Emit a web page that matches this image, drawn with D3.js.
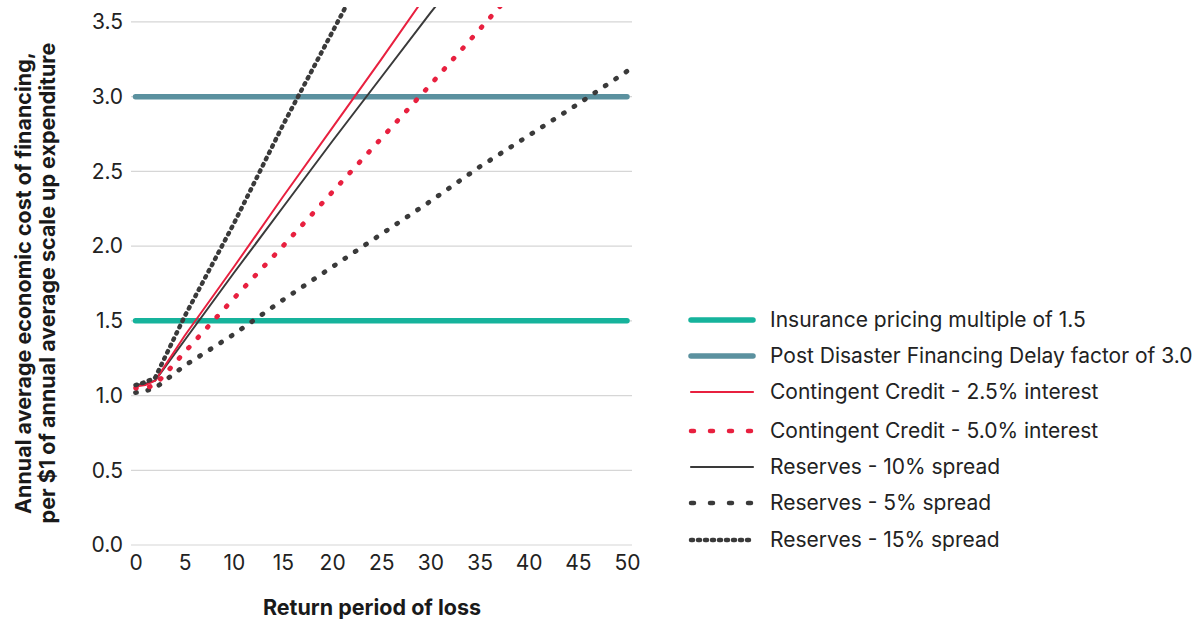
<!DOCTYPE html>
<html>
<head>
<meta charset="utf-8">
<script src="https://cdn.jsdelivr.net/npm/d3@7/dist/d3.min.js"></script>
<style>
  html, body { margin: 0; padding: 0; background: #fff; }
  svg { display: block; font-family: Inter, "Open Sans", sans-serif; }
</style>
</head>
<body>
<svg id="chart" width="1200" height="619"></svg>
<script>
// ---- data ----
const returnPeriods = [0, 1, 2, 5, 10, 15, 20, 25, 30, 35, 40, 45, 50];
const insurance = [1.5, 1.5, 1.5, 1.5, 1.5, 1.5, 1.5, 1.5, 1.5, 1.5, 1.5, 1.5, 1.5];
const postDisaster = [3.0, 3.0, 3.0, 3.0, 3.0, 3.0, 3.0, 3.0, 3.0, 3.0, 3.0, 3.0, 3.0];
const credit25 = [1.06, 1.07, 1.10, 1.40, 1.86, 2.33, 2.79, 3.25, 3.72, 4.18, 4.64, 5.10, 5.56];
const credit50 = [1.05, 1.05, 1.07, 1.29, 1.65, 2.00, 2.36, 2.72, 3.08, 3.45, 3.82, 4.18, 4.55];
const reserves10 = [1.07, 1.08, 1.10, 1.37, 1.82, 2.26, 2.70, 3.13, 3.56, 3.98, 4.40, 4.82, 5.24];
const reserves5 = [1.02, 1.03, 1.05, 1.20, 1.41, 1.64, 1.86, 2.08, 2.30, 2.53, 2.74, 2.95, 3.17];
const reserves15 = [1.07, 1.09, 1.12, 1.53, 2.15, 2.81, 3.43, 4.05, 4.67, 5.29, 5.91, 6.53, 7.15];
const seriesNames = [
  "Insurance pricing multiple of 1.5",
  "Post Disaster Financing Delay factor of 3.0",
  "Contingent Credit - 2.5% interest",
  "Contingent Credit - 5.0% interest",
  "Reserves - 10% spread",
  "Reserves - 5% spread",
  "Reserves - 15% spread"
];
const xTicks = [0, 5, 10, 15, 20, 25, 30, 35, 40, 45, 50];
const yTicks = [0.0, 0.5, 1.0, 1.5, 2.0, 2.5, 3.0, 3.5];
const xTitle = "Return period of loss";
const yTitle = ["Annual average economic cost of financing,", "per $1 of annual average scale up expenditure"];

// ---- styles ----
const styles = [
  {color: "#16b39c", width: 5.5, dash: null, legendDash: null},
  {color: "#5b919f", width: 5.5, dash: null, legendDash: null},
  {color: "#e8203f", width: 2, dash: null, legendDash: null},
  {color: "#e8203f", width: 4.8, dash: "1,13", legendDash: "3,16"},
  {color: "#3a3a3a", width: 2, dash: null, legendDash: null},
  {color: "#3a3a3a", width: 4.8, dash: "1,11.5", legendDash: "3,16"},
  {color: "#3a3a3a", width: 4.4, dash: "1.5,5.5", legendDash: "2,5"}
];
const allValues = [insurance, postDisaster, credit25, credit50, reserves10, reserves5, reserves15];

const svg = d3.select("#chart");
const x = d3.scaleLinear().domain([0, 50]).range([135.5, 627]);
const y = d3.scaleLinear().domain([0, 3.6]).range([545, 7]);

// gridlines
svg.append("g").selectAll("line").data(yTicks).join("line")
  .attr("x1", 131).attr("x2", 632)
  .attr("y1", d => y(d)).attr("y2", d => y(d))
  .attr("stroke", "#d6d6d6").attr("stroke-width", 1.2);

// y axis labels
const yAxis = d3.axisLeft(y).tickValues(yTicks).tickFormat(d3.format(".1f")).tickSize(0).tickPadding(0);
const gy = svg.append("g").attr("transform", "translate(123,0)").call(yAxis);
gy.select(".domain").remove();
gy.selectAll("text").attr("font-size", 21).attr("fill", "#222").attr("font-family", "Inter, sans-serif");

// x axis labels
const xAxis = d3.axisBottom(x).tickValues(xTicks).tickSize(0).tickPadding(0);
const gx = svg.append("g").attr("transform", "translate(0,555)").call(xAxis);
gx.select(".domain").remove();
gx.selectAll("text").attr("font-size", 21).attr("fill", "#222").attr("font-family", "Inter, sans-serif");

// clip
svg.append("clipPath").attr("id", "clip").append("rect")
  .attr("x", 100).attr("y", 7).attr("width", 560).attr("height", 600);

const line = d3.line().x(d => x(d[0])).y(d => y(d[1]));
const plot = svg.append("g").attr("clip-path", "url(#clip)");
const drawOrder = [0, 1, 5, 3, 4, 2, 6];
drawOrder.forEach(i => {
  const pts = returnPeriods.map((r, j) => [r, allValues[i][j]]);
  const st = styles[i];
  plot.append("path")
    .attr("d", line(pts))
    .attr("fill", "none")
    .attr("stroke", st.color)
    .attr("stroke-width", st.width)
    .attr("stroke-linecap", "round")
    .attr("stroke-linejoin", "round")
    .attr("stroke-dasharray", st.dash);
});

// legend
const legendY = [320, 356, 392, 431, 467, 503, 540];
const lg = svg.append("g");
seriesNames.forEach((name, i) => {
  const st = styles[i];
  const g = lg.append("g").attr("transform", `translate(0,${legendY[i]})`);
  g.append("line")
    .attr("x1", 691).attr("x2", 753).attr("y1", 0).attr("y2", 0)
    .attr("stroke", st.color)
    .attr("stroke-width", i < 2 ? 5.5 : (st.dash ? 4.5 : 2.2))
    .attr("stroke-linecap", "round")
    .attr("stroke-dasharray", st.legendDash);
  g.append("text")
    .attr("x", 770).attr("y", 0).attr("dy", "0.35em")
    .attr("font-size", 21).attr("fill", "#222")
    .text(name);
});

// axis titles
svg.append("text")
  .attr("x", 372).attr("y", 607).attr("dy", "0.35em")
  .attr("text-anchor", "middle")
  .attr("font-size", 21.5).attr("font-weight", "bold").attr("fill", "#1a1a1a")
  .text(xTitle);

const yt = svg.append("text")
  .attr("transform", "translate(0,283) rotate(-90)")
  .attr("text-anchor", "middle")
  .attr("font-size", 21.5).attr("font-weight", "bold").attr("fill", "#1a1a1a");
yTitle.forEach((t, i) => {
  yt.append("tspan").attr("x", 0).attr("y", i === 0 ? 23 : 47).attr("dy", "0.35em").text(t);
});
</script>
</body>
</html>
